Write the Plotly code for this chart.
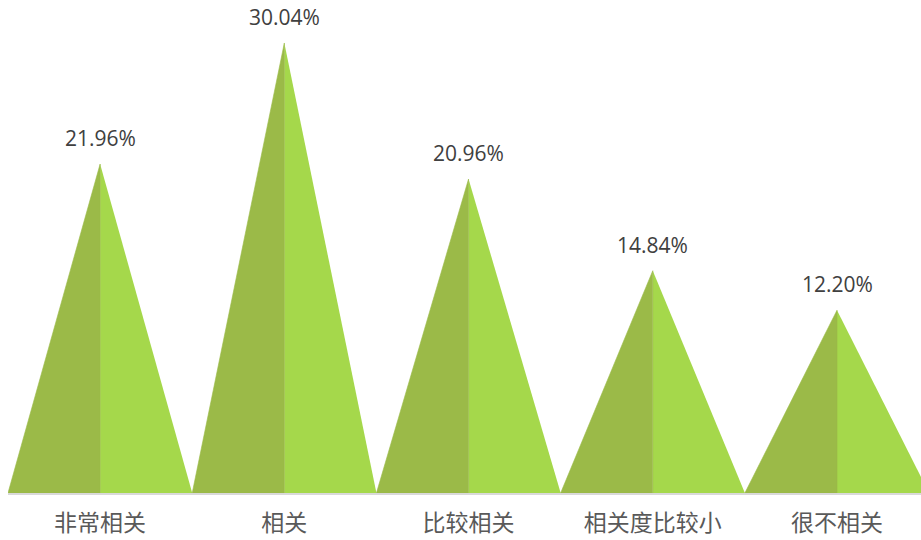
import plotly.graph_objects as go

categories = ["非常相关", "相关", "比较相关", "相关度比较小", "很不相关"]
values = [21.96, 30.04, 20.96, 14.84, 12.20]
labels = ["21.96%", "30.04%", "20.96%", "14.84%", "12.20%"]

dark = "#9BBA48"
light = "#A5D84B"

fig = go.Figure()
for i, v in enumerate(values):
    fig.add_trace(go.Scatter(
        x=[i, i, i + 0.5, i], y=[0, v, 0, 0],
        mode="lines", fill="toself", fillcolor=light,
        line=dict(width=0, color=light), hoverinfo="skip", showlegend=False))
    fig.add_trace(go.Scatter(
        x=[i - 0.5, i, i, i - 0.5], y=[0, v, 0, 0],
        mode="lines", fill="toself", fillcolor=dark,
        line=dict(width=0.6, color=dark), hoverinfo="skip", showlegend=False))
    fig.add_annotation(x=i, y=v, text=labels[i], showarrow=False,
                       yanchor="bottom", yshift=10,
                       font=dict(size=21, color="#404040",
                                 family="Open Sans, Noto Sans CJK SC"))

fig.update_layout(
    width=921, height=540,
    margin=dict(l=8, r=0, t=0, b=47, autoexpand=False),
    paper_bgcolor="white", plot_bgcolor="white",
    xaxis=dict(range=[-0.5, 4.456], tickvals=list(range(len(categories))),
               ticktext=categories, showgrid=False, zeroline=False,
               showline=True, linecolor="#D9D9D9", linewidth=2,
               ticks="", ticklabelstandoff=8, automargin=False,
               tickfont=dict(size=23, color="#595959",
                             family="Noto Sans CJK SC")),
    yaxis=dict(range=[0, 32.91], visible=False, showgrid=False, zeroline=False,
               automargin=False),
)

fig.write_html("out.html", config={"displayModeBar": False},
               post_script="document.body.style.margin='0';document.body.style.overflow='hidden';")
